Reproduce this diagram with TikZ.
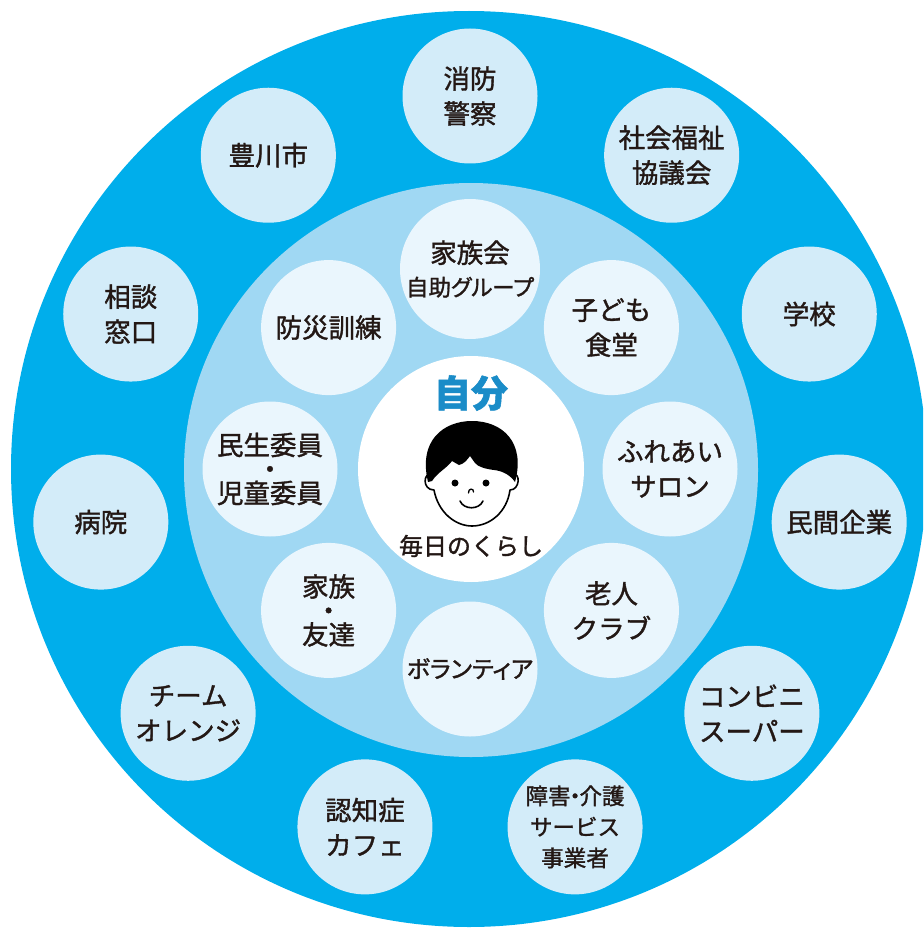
\documentclass[tikz,border=0pt]{standalone}
\usepackage{fontspec}
\setmainfont{Noto Sans CJK JP}[FakeBold=1.4]
\newfontfamily\propkana{Noto Sans CJK JP}[FakeBold=1.4, RawFeature=+palt]
\usetikzlibrary{calc}
\definecolor{ringblue}{HTML}{00AEEB}
\definecolor{midblue}{HTML}{A0D8F3}
\definecolor{outbubfill}{HTML}{D3ECF9}
\definecolor{inbubfill}{HTML}{EAF6FD}
\definecolor{ink}{HTML}{231815}
\definecolor{selfblue}{HTML}{1A8CC8}
\newcommand\tightlines{\lineskiplimit=-100pt\relax}
\begin{document}
\begin{tikzpicture}[x=1pt,y=-1pt,
  bubble/.style={circle, minimum size=135pt, inner sep=0pt, align=center,
    text=ink, font=\fontsize{26.5}{35}\selectfont\tightlines},
  outerbubble/.style={bubble, fill=outbubfill},
  innerbubble/.style={bubble, fill=inbubfill},
  dotlines/.style={font=\fontsize{26.5}{24}\selectfont\tightlines},
  smalltext/.style={font=\fontsize{22.5}{31}\selectfont\tightlines},
  facestroke/.style={line width=1.6pt, draw=black, line cap=round, line join=round},
]
\useasboundingbox (0,0) rectangle (923,928);

% rings
\begin{scope}
  \clip (0,0) rectangle (923,928);
  \fill[ringblue] (469,469) circle[radius=458pt];
\end{scope}
\fill[midblue] (471,470) circle[radius=287pt];
\fill[white] (471,469) circle[radius=113pt];

\coordinate (c) at (470,469);

% outer ring of bubbles
\node[outerbubble] (o0)  at ($(c)+(90:373pt)$)      {消防\\警察};
\node[outerbubble] (o1)  at ($(c)+(57.27:373pt)$)   {社会福祉\\協議会};
\node[outerbubble] (o2)  at ($(c)+(24.55:373pt)$)   {学校};
\node[outerbubble] (o3)  at ($(c)+(-8.18:373pt)$)   {民間企業};
\node[outerbubble] (o4)  at ($(c)+(-40.91:373pt)$)  {コンビニ\\スーパー};
\node[outerbubble, smalltext] (o5) at ($(c)+(-73.64:373pt)$)
  {障害{\kern-.3em}・{\kern-.3em}介護\\サービス\\事業者};
\node[outerbubble] (o6)  at ($(c)+(-106.36:373pt)$) {認知症\\カフェ};
\node[outerbubble] (o7)  at ($(c)+(-139.09:373pt)$) {チーム\\オレンジ};
\node[outerbubble] (o8)  at ($(c)+(-171.82:373pt)$) {病院};
\node[outerbubble] (o9)  at ($(c)+(-204.55:373pt)$) {相談\\窓口};
\node[outerbubble] (o10) at ($(c)+(-237.27:373pt)$) {豊川市};

% inner ring of bubbles
\node[innerbubble] (i0) at ($(c)+(90:200pt)$)
  {家族会\\[-2pt]{\propkana\fontsize{22.5}{22.5}\selectfont 自助グループ}};
\node[innerbubble] (i1) at ($(c)+(45:200pt)$)   {子ども\\食堂};
\node[innerbubble] (i2) at ($(c)+(0:200pt)$)    {ふれあい\\サロン};
\node[innerbubble] (i3) at ($(c)+(-45:200pt)$)  {老人\\クラブ};
\node[innerbubble, font=\propkana\fontsize{24}{24}\selectfont] (i4) at ($(c)+(-90:200pt)$) {ボランティア};
\node[innerbubble, dotlines] (i5) at ($(c)+(-135:200pt)$) {家族\\・\\友達};
\node[innerbubble, dotlines] (i6) at ($(c)+(180:200pt)$)  {民生委員\\・\\児童委員};
\node[innerbubble] (i7) at ($(c)+(135:200pt)$)  {防災訓練};

% centre
\node[font=\fontsize{37}{37}\selectfont\bfseries, text=selfblue] (self) at (471,393) {自分};
\node[font=\fontsize{24}{24}\selectfont, text=ink] (daily) at (471,546) {毎日のくらし};

% face
\draw[facestroke, fill=white]
  (432,474) .. controls (423,472) and (422,490) .. (434,490)
  .. controls (438,512) and (455,526) .. (472,526)
  .. controls (490,526) and (507,512) .. (510,490)
  .. controls (520,490) and (521,472) .. (512,474);
\fill[black]
  (428,482) .. controls (418,440) and (444,421) .. (472,421)
  .. controls (502,421) and (526,442) .. (515,482)
  .. controls (510,475) and (503,471) .. (494,470)
  .. controls (486,469) and (478,467) .. (475,463)
  -- (470,456)
  .. controls (467,460) and (464,464) .. (459,465)
  -- (452,461)
  .. controls (447,468) and (438,472) .. (432,481)
  -- cycle;
\fill[black] (455,483) circle[radius=3.5pt];
\fill[black] (486,483) circle[radius=3.5pt];
\draw[line width=1.3pt, line cap=round] (468.5,493) .. controls (468,488) and (474,488) .. (473.5,492);
\draw[facestroke] (460,501) .. controls (464,510) and (479,510) .. (483,501);
\end{tikzpicture}
\end{document}
